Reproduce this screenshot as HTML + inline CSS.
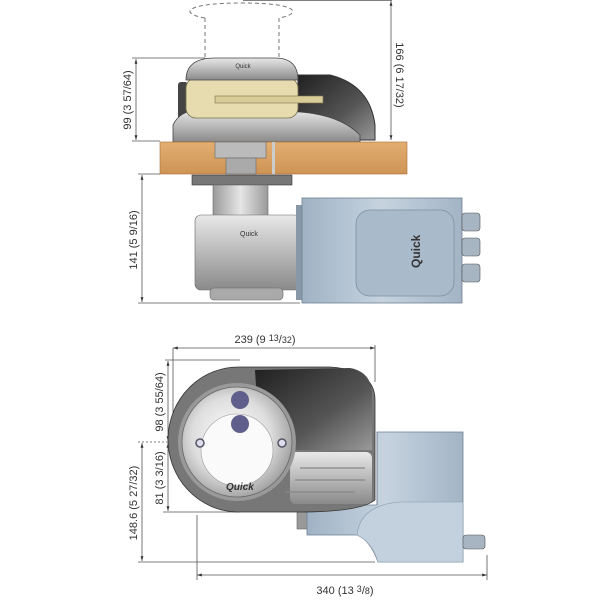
<!DOCTYPE html>
<html><head><style>body{margin:0;background:#fff}svg{display:block}text{font-family:"Liberation Sans",sans-serif;fill:#333}</style></head>
<body>
<svg width="600" height="600" viewBox="0 0 600 600" xmlns="http://www.w3.org/2000/svg">
<defs>
<linearGradient id="gr" x1="0" y1="0" x2="0" y2="1"><stop offset="0" stop-color="#e8e8e8"/><stop offset="1" stop-color="#8a8a8a"/></linearGradient>
<linearGradient id="grh" x1="0" y1="0" x2="1" y2="0"><stop offset="0" stop-color="#9a9a9a"/><stop offset=".5" stop-color="#e6e6e6"/><stop offset="1" stop-color="#9a9a9a"/></linearGradient>
<linearGradient id="dk" x1="0" y1="0" x2="1" y2="1"><stop offset="0" stop-color="#202020"/><stop offset=".6" stop-color="#555"/><stop offset="1" stop-color="#999"/></linearGradient>
<linearGradient id="bl" x1="0" y1="0" x2="1" y2="0"><stop offset="0" stop-color="#9fb2c4"/><stop offset=".5" stop-color="#c6d3df"/><stop offset="1" stop-color="#a3b4c5"/></linearGradient>
<linearGradient id="wd" x1="0" y1="0" x2="0" y2="1"><stop offset="0" stop-color="#e2ae72"/><stop offset="1" stop-color="#cf9455"/></linearGradient>
<radialGradient id="drum" cx=".45" cy=".45" r=".6"><stop offset="0" stop-color="#fff"/><stop offset=".6" stop-color="#ddd"/><stop offset="1" stop-color="#999"/></radialGradient>
<marker id="a" viewBox="0 0 10 10" refX="10" refY="5" markerWidth="6" markerHeight="6" orient="auto-start-reverse"><path d="M0,2 L10,5 L0,8z" fill="#333"/></marker>
</defs>
<g stroke="#555" stroke-width="0.8" fill="none">
<line x1="243" y1="0.5" x2="392" y2="0.5"/>
<line x1="391" y1="1" x2="391" y2="140" marker-start="url(#a)" marker-end="url(#a)"/>
<line x1="132" y1="58" x2="205" y2="58"/><line x1="132" y1="141" x2="160" y2="141"/>
<line x1="136" y1="59" x2="136" y2="140" marker-start="url(#a)" marker-end="url(#a)"/>
<line x1="138" y1="174" x2="160" y2="174"/><line x1="138" y1="303" x2="300" y2="303"/>
<line x1="142" y1="175" x2="142" y2="302" marker-start="url(#a)" marker-end="url(#a)"/>
<line x1="173" y1="348" x2="375" y2="348" marker-start="url(#a)" marker-end="url(#a)"/>
<line x1="173" y1="348" x2="173" y2="420"/><line x1="375" y1="345" x2="375" y2="382"/>
<line x1="165" y1="360" x2="240" y2="360"/>
<line x1="168" y1="361" x2="168" y2="441" marker-start="url(#a)" marker-end="url(#a)"/>
<line x1="168" y1="443" x2="168" y2="511" marker-start="url(#a)" marker-end="url(#a)"/>
<line x1="163" y1="512" x2="240" y2="512"/>
<line x1="138" y1="442" x2="175" y2="442" stroke-dasharray="2,2"/>
<line x1="142" y1="443" x2="142" y2="561" marker-start="url(#a)" marker-end="url(#a)"/>
<line x1="138" y1="562" x2="375" y2="562"/>
<line x1="197" y1="515" x2="197" y2="580"/><line x1="487" y1="555" x2="487" y2="580"/>
<line x1="197" y1="575" x2="487" y2="575" marker-start="url(#a)" marker-end="url(#a)"/>
</g>
<g stroke="#777" stroke-width="1" fill="none" stroke-dasharray="4,3">
<path d="M205,18 C180,14 182,3 243,3 C300,3 302,14 279,18"/>
<line x1="205" y1="18" x2="205" y2="57"/><line x1="279" y1="18" x2="279" y2="57"/>
</g>
<path d="M298,75 L330,75 Q370,85 375,125 L375,140 L298,140z" fill="url(#dk)" stroke="#333"/>
<rect x="178" y="82" width="10" height="38" rx="3" fill="#444"/>
<path d="M173,142 L173,125 Q180,110 200,110 L300,112 Q340,115 360,135 L360,142z" fill="url(#gr)" stroke="#444" stroke-width=".8"/>
<rect x="186" y="78" width="112" height="40" rx="10" fill="#e6dcb0" stroke="#7a704a" stroke-width=".8"/>
<rect x="215" y="96" width="108" height="7" fill="#d8cc98" stroke="#7a704a" stroke-width=".6"/>
<path d="M186,80 Q186,58 215,58 L275,58 Q298,58 298,80z" fill="url(#gr)" stroke="#444" stroke-width=".8"/>
<text x="243" y="68" font-size="6" text-anchor="middle" fill="#777">Quick</text>
<rect x="160" y="142" width="247" height="32" fill="url(#wd)" stroke="#a86c36" stroke-width=".6"/>
<rect x="215" y="142" width="51" height="16" fill="#bbb" stroke="#666" stroke-width=".6"/>
<rect x="226" y="158" width="30" height="16" fill="#aaa" stroke="#666" stroke-width=".6"/>
<rect x="272" y="142" width="3" height="32" fill="#ccc"/>
<rect x="192" y="175" width="100" height="10" fill="#777" stroke="#333" stroke-width=".6"/>
<rect x="213" y="185" width="55" height="32" fill="url(#grh)" stroke="#666" stroke-width=".6"/>
<rect x="195" y="215" width="105" height="75" rx="6" fill="url(#gr)" stroke="#666" stroke-width=".6"/>
<rect x="210" y="288" width="73" height="12" rx="4" fill="#aaa" stroke="#666" stroke-width=".6"/>
<text x="240" y="236" font-size="7" fill="#666">Quick</text>
<rect x="296" y="205" width="8" height="95" fill="#8898a8"/>
<rect x="302" y="198" width="160" height="105" fill="url(#bl)" stroke="#6e7f90" stroke-width=".8"/>
<rect x="356" y="210" width="98" height="86" rx="14" fill="#a9bacb" stroke="#7f90a0" stroke-width=".8"/>
<text x="0" y="0" font-size="12" font-weight="bold" fill="#7f90a8" transform="translate(420,268) rotate(-90)">Quick</text>
<g fill="#a7b4c2" stroke="#555" stroke-width=".6">
<rect x="462" y="213" width="18" height="18" rx="3"/><rect x="462" y="238" width="18" height="18" rx="3"/><rect x="462" y="264" width="18" height="18" rx="3"/>
</g>
<!-- bottom view motor -->
<rect x="297" y="505" width="12" height="24" fill="#999" stroke="#666" stroke-width=".6"/>
<path d="M307,505 L377,505 L377,432 L463,432 L463,562 L378,562 Q370,540 357,535 L307,535z" fill="url(#bl)" stroke="#6e7f90" stroke-width=".8"/>
<path d="M357,535 Q360,505 400,502 L463,502 L463,562 L378,562 Q372,542 357,535z" fill="#c3d1de" stroke="#8a9aaa" stroke-width=".6"/>
<line x1="377" y1="432" x2="377" y2="505" stroke="#6e7f90" stroke-width=".8"/>
<rect x="463" y="535" width="22" height="14" rx="3" fill="#a7b4c2" stroke="#555" stroke-width=".6"/>
<path d="M240,367 L330,367 Q375,370 375,400 L375,500 Q360,512 300,512 L237,512 A70,72 0 0 1 240,367z" fill="#777" stroke="#333" stroke-width=".8"/>
<path d="M255,370 L350,368 Q372,372 372,395 L372,450 L260,450z" fill="url(#dk)"/>
<rect x="290" y="452" width="82" height="52" rx="6" fill="url(#gr)"/>
<g stroke="#888" stroke-width="1.2"><line x1="300" y1="468" x2="365" y2="468"/><line x1="295" y1="480" x2="365" y2="480"/><line x1="285" y1="492" x2="355" y2="492"/></g>
<circle cx="237" cy="442" r="59" fill="#999"/>
<circle cx="237" cy="442" r="55" fill="url(#drum)" stroke="#666" stroke-width=".8"/>
<circle cx="237" cy="450" r="36" fill="#fafafa" stroke="#999" stroke-width=".6"/>
<circle cx="200" cy="443" r="4" fill="#dde" stroke="#556" stroke-width="1.5"/>
<circle cx="282" cy="443" r="4" fill="#dde" stroke="#556" stroke-width="1.5"/>
<g fill="#5e5f8a"><circle cx="240" cy="400" r="9"/><circle cx="240" cy="424" r="9"/></g>
<text x="226" y="490" font-size="10" font-weight="bold" fill="#888" font-style="italic">Quick</text>
<text x="265" y="343" font-size="11" text-anchor="middle">239 (9 <tspan font-size="9" dy="-2">13</tspan><tspan dy="2">/</tspan><tspan font-size="9">32</tspan>)</text>
<text x="345" y="594" font-size="11" text-anchor="middle">340 (13 <tspan font-size="9" dy="-2">3</tspan><tspan dy="2">/</tspan><tspan font-size="9">8</tspan>)</text>
<g font-size="11">
<text transform="translate(131,100) rotate(-90)" text-anchor="middle">99 (3 57/64)</text>
<text transform="translate(137,240) rotate(-90)" text-anchor="middle">141 (5 9/16)</text>
<text transform="translate(396,75) rotate(90)" text-anchor="middle">166 (6 17/32)</text>
<text transform="translate(163,402) rotate(-90)" text-anchor="middle">98 (3 55/64)</text>
<text transform="translate(163,478) rotate(-90)" text-anchor="middle">81 (3 3/16)</text>
<text transform="translate(137,503) rotate(-90)" text-anchor="middle">148.6 (5 27/32)</text>
</g>
</svg>
</body></html>
